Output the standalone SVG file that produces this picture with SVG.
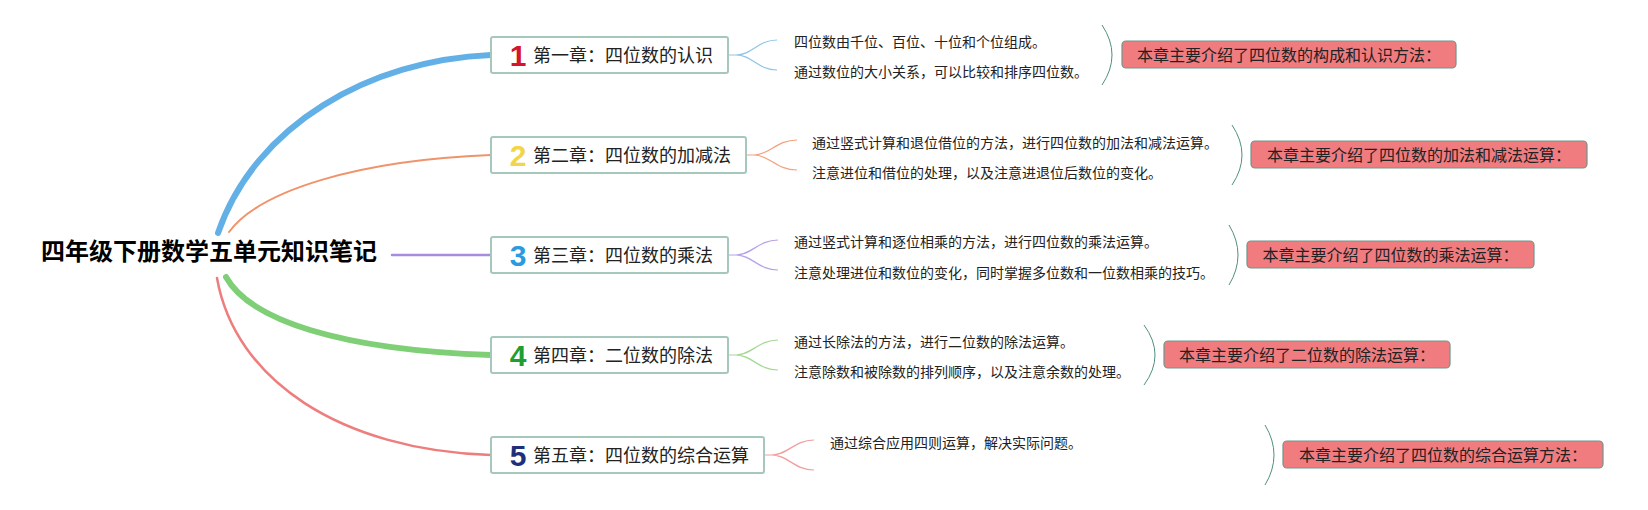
<svg xmlns="http://www.w3.org/2000/svg" width="1648" height="510" viewBox="0 0 1648 510">
<style>
text{font-family:"Noto Sans CJK SC","Noto Sans",sans-serif;fill:#222}
.root{font-size:24px;font-weight:bold;fill:#000}
.node rect{fill:#fff;stroke:#a6c7bb;stroke-width:2}
.nt{font-size:18px}
.num{font-family:"Liberation Sans","DejaVu Sans",sans-serif;font-size:30px;font-weight:bold;text-anchor:middle}
.dt{font-size:14px}
.sum rect{fill:#f07c80;stroke:#6f958a;stroke-width:1.2}
.st{font-size:16px;text-anchor:middle;fill:#222}
.br{fill:none;stroke:#4f9080;stroke-width:1}
.c{fill:none;stroke-linecap:round}
.f{fill:none;stroke-width:1.2}
</style>
<rect width="1648" height="510" fill="#fff"/>
<g id="connectors">
<path class="c" d="M218,233 C255,125 370,60 491,55" stroke="#62b0e5" stroke-width="6"/>
<path class="c" d="M229,232 C260,190 360,160 491,155" stroke="#f0936a" stroke-width="2"/>
<path class="c" d="M392,255 H491" stroke="#a88be0" stroke-width="2.5"/>
<path class="c" d="M226,277 C250,320 340,350 491,355" stroke="#7fcf76" stroke-width="6"/>
<path class="c" d="M217,278 C235,380 340,450 491,455" stroke="#ee7d7d" stroke-width="2.5"/>
<path class="f" stroke="#8cc4e8" d="M728,55 H736 C752,55 758,40 777,40 M736,55 C752,55 758,70 777,70"/>
<path class="f" stroke="#f2a27f" d="M746,155 H754 C770,155 776,140 797,140 M754,155 C770,155 776,170 797,170"/>
<path class="f" stroke="#b7a2ea" d="M728,255 H736 C752,255 758,240 778,240 M736,255 C752,255 758,270 778,270"/>
<path class="f" stroke="#a3d993" d="M728,355 H736 C752,355 758,340 778,340 M736,355 C752,355 758,370 778,370"/>
<path class="f" stroke="#f29e9e" d="M764,455 H772 C788,455 794,440 814,440 M772,455 C788,455 794,470 814,470"/>
<path class="br" d="M1102,25 Q1122,55 1102,85"/>
<path class="br" d="M1232,125 Q1252,155 1232,185"/>
<path class="br" d="M1229,225 Q1247,255 1229,285"/>
<path class="br" d="M1144,325 Q1166,355 1144,385"/>
<path class="br" d="M1265,425 Q1283,455 1265,485"/>
</g>
<g id="root"><text class="root" x="41" y="260">四年级下册数学五单元知识笔记</text></g>
<g id="n1" class="node"><rect x="491" y="37" width="237" height="36" rx="2"/><text class="num" x="518" y="65.5" fill="#d6142b" style="fill:#d6142b">1</text><text class="nt" x="533" y="62">第一章：四位数的认识</text></g>
<g id="n2" class="node"><rect x="491" y="137" width="255" height="36" rx="2"/><text class="num" x="518" y="165.5" style="fill:#f3d54a">2</text><text class="nt" x="533" y="162">第二章：四位数的加减法</text></g>
<g id="n3" class="node"><rect x="491" y="237" width="237" height="36" rx="2"/><text class="num" x="518" y="265.5" style="fill:#2b9be0">3</text><text class="nt" x="533" y="262">第三章：四位数的乘法</text></g>
<g id="n4" class="node"><rect x="491" y="337" width="237" height="36" rx="2"/><text class="num" x="518" y="365.5" style="fill:#1f9e33">4</text><text class="nt" x="533" y="362">第四章：二位数的除法</text></g>
<g id="n5" class="node"><rect x="491" y="437" width="273" height="36" rx="2"/><text class="num" x="518" y="465.5" style="fill:#1f2f7a">5</text><text class="nt" x="533" y="462">第五章：四位数的综合运算</text></g>
<g id="d1"><text class="dt" x="794" y="47.3">四位数由千位、百位、十位和个位组成。</text><text class="dt" x="794" y="77.3">通过数位的大小关系，可以比较和排序四位数。</text></g>
<g id="d2"><text class="dt" x="812" y="148.3">通过竖式计算和退位借位的方法，进行四位数的加法和减法运算。</text><text class="dt" x="812" y="178.3">注意进位和借位的处理，以及注意进退位后数位的变化。</text></g>
<g id="d3"><text class="dt" x="794" y="247.3">通过竖式计算和逐位相乘的方法，进行四位数的乘法运算。</text><text class="dt" x="794" y="278">注意处理进位和数位的变化，同时掌握多位数和一位数相乘的技巧。</text></g>
<g id="d4"><text class="dt" x="794" y="347">通过长除法的方法，进行二位数的除法运算。</text><text class="dt" x="794" y="377">注意除数和被除数的排列顺序，以及注意余数的处理。</text></g>
<g id="d5"><text class="dt" x="830" y="448">通过综合应用四则运算，解决实际问题。</text></g>
<g id="s1" class="sum"><rect x="1122" y="41" width="334" height="27" rx="4"/><text class="st" x="1289" y="60.5">本章主要介绍了四位数的构成和认识方法：</text></g>
<g id="s2" class="sum"><rect x="1251" y="141" width="336" height="27" rx="4"/><text class="st" x="1419" y="160.5">本章主要介绍了四位数的加法和减法运算：</text></g>
<g id="s3" class="sum"><rect x="1247" y="241" width="287" height="27" rx="4"/><text class="st" x="1390.5" y="260.5">本章主要介绍了四位数的乘法运算：</text></g>
<g id="s4" class="sum"><rect x="1164" y="341" width="286" height="27" rx="4"/><text class="st" x="1307" y="360.5">本章主要介绍了二位数的除法运算：</text></g>
<g id="s5" class="sum"><rect x="1283" y="441" width="320" height="27" rx="4"/><text class="st" x="1443" y="460.5">本章主要介绍了四位数的综合运算方法：</text></g>
</svg>
